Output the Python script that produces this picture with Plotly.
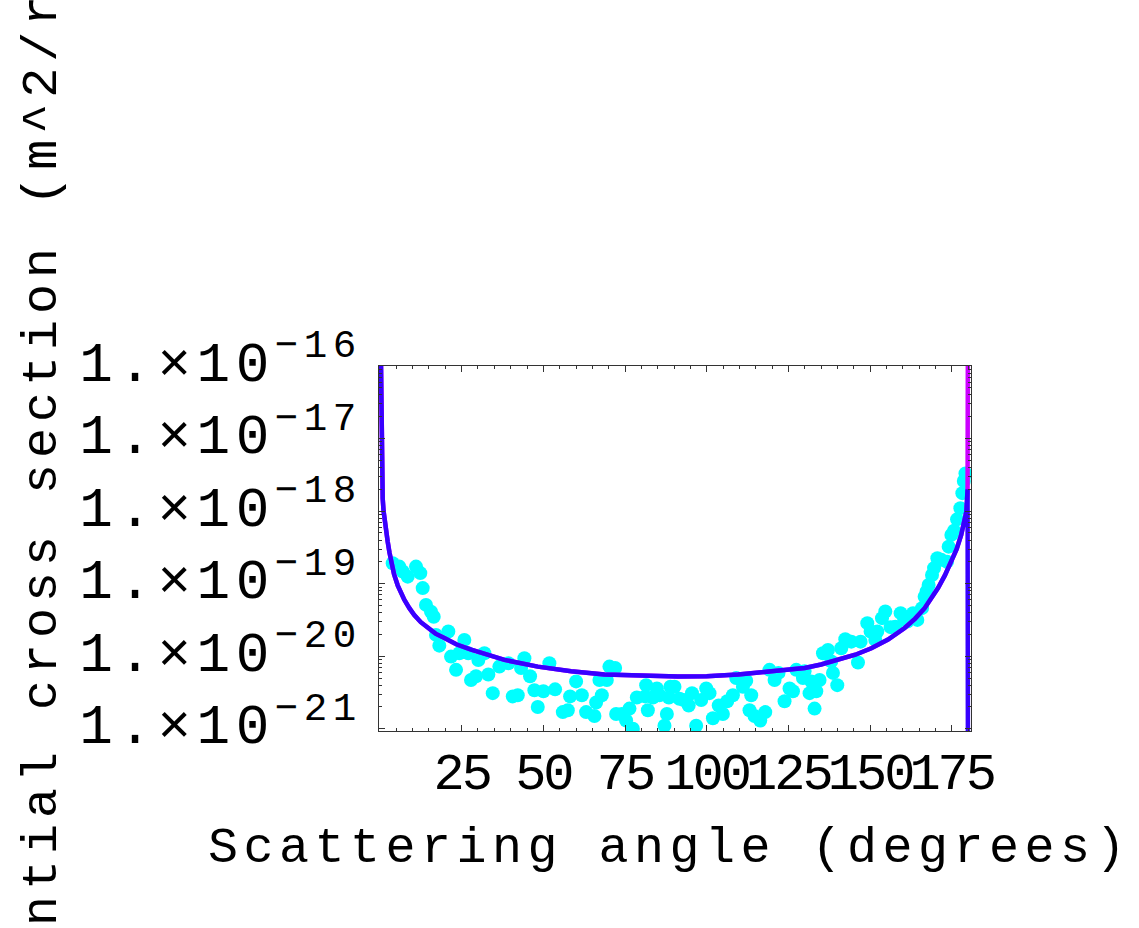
import plotly.graph_objects as go

# Measured differential cross section vs scattering angle (cyan points)
angle_deg = [
    3.89, 5.91, 6.95, 8.48, 11.03, 12.34, 13.08, 14.09, 15.62, 16.45,
    17.15, 18.16, 20.92, 21.75, 23.28, 24.29, 25.82, 27.04, 27.87, 29.40,
    30.11, 31.95, 33.17, 34.52, 36.54, 39.30, 40.64, 42.17, 43.19, 44.20,
    45.94, 47.26, 48.30, 50.02, 51.85, 53.60, 55.96, 57.49, 58.19, 60.03,
    61.78, 63.09, 65.64, 66.16, 67.17, 67.90, 69.43, 70.23, 71.98, 72.28,
    74.03, 75.34, 76.36, 77.40, 78.62, 81.16, 81.47, 81.99, 83.52, 84.75,
    85.54, 87.08, 87.81, 88.42, 88.91, 90.14, 91.67, 92.96, 94.49, 95.50,
    96.78, 98.32, 99.85, 100.86, 101.90, 103.68, 104.96, 106.28, 108.02, 109.04,
    111.09, 112.10, 113.11, 113.63, 114.64, 116.39, 117.92, 119.23, 120.77, 121.99,
    123.83, 125.36, 126.40, 127.41, 129.46, 129.96, 131.49, 132.01, 133.02, 133.54,
    134.55, 135.59, 137.12, 138.13, 138.65, 139.97, 141.19, 142.42, 144.26, 146.31,
    147.11, 149.16, 150.17, 151.61, 152.22, 153.66, 154.67, 156.29, 157.73, 159.36,
    160.40, 161.41, 163.15, 164.47, 165.91, 166.71, 167.32, 167.93, 168.97, 169.59,
    170.60, 171.82, 173.57, 174.06, 174.89, 175.71, 176.63, 177.64, 178.25, 178.70,
    179.20,
]
sigma_measured = [
    1.91e-19, 1.72e-19, 1.47e-19, 1.25e-19, 1.72e-19, 1.40e-19, 8.7e-20, 5.1e-20, 4.1e-20, 3.5e-20,
    1.97e-20, 1.40e-20, 2.19e-20, 9.9e-21, 6.5e-21, 1.10e-20, 1.68e-20, 1.10e-20, 4.7e-21, 5.3e-21,
    8.9e-21, 1.10e-20, 5.6e-21, 3.1e-21, 7.2e-21, 8.0e-21, 2.8e-21, 2.9e-21, 6.9e-21, 9.4e-21,
    5.3e-21, 3.4e-21, 2.0e-21, 3.3e-21, 8.0e-21, 3.5e-21, 1.7e-21, 1.8e-21, 2.8e-21, 4.5e-21,
    2.9e-21, 1.7e-21, 1.5e-21, 2.3e-21, 4.7e-21, 2.9e-21, 4.7e-21, 7.2e-21, 6.9e-21, 1.6e-21,
    1.6e-21, 1.3e-21, 1.9e-21, 1.0e-21, 2.7e-21, 2.8e-21, 4.0e-21, 1.8e-21, 2.7e-21, 3.6e-21,
    2.9e-21, 1.1e-21, 1.6e-21, 2.7e-21, 3.8e-21, 3.8e-21, 2.6e-21, 2.5e-21, 2.1e-21, 3.1e-21,
    1.1e-21, 2.5e-21, 3.6e-21, 3.1e-21, 1.4e-21, 2.1e-21, 1.6e-21, 2.4e-21, 2.9e-21, 5.0e-21,
    3.8e-21, 4.6e-21, 1.8e-21, 2.9e-21, 1.5e-21, 1.3e-21, 1.7e-21, 6.5e-21, 4.7e-21, 5.9e-21,
    2.4e-21, 3.6e-21, 3.3e-21, 6.5e-21, 5.0e-21, 6.2e-21, 3.1e-21, 4.5e-21, 1.9e-21, 3.3e-21,
    4.7e-21, 1.10e-20, 1.22e-20, 8.5e-21, 5.9e-21, 4.0e-21, 1.29e-20, 1.72e-20, 1.59e-20, 8.2e-21,
    1.59e-20, 2.86e-20, 2.19e-20, 1.68e-20, 2.19e-20, 3.35e-20, 4.13e-20, 2.52e-20, 2.56e-20, 3.93e-20,
    3.35e-20, 3.01e-20, 3.93e-20, 3.17e-20, 4.60e-20, 6.6e-20, 7.8e-20, 9.6e-20, 1.32e-19, 1.64e-19,
    2.24e-19, 2.13e-19, 2.01e-19, 3.24e-19, 4.70e-19, 5.38e-19, 7.7e-19, 1.10e-18, 1.77e-18, 2.6e-18,
    3.3e-18,
]

# Theoretical curves (blue drops to zero exactly at 180 deg, magenta diverges there)
theory_angle = [
    0.30, 0.45, 0.60, 0.83, 1.10, 1.32, 1.80, 2.36, 2.90, 3.37,
    4.30, 5.42, 6.40, 7.44, 9.00, 10.5, 12.5, 14.6, 17.0, 19.7,
    23.5, 27.9, 33.0, 38.1, 48.3, 58.5, 68.7, 78.9, 91.2, 100.0,
    109.6, 119.8, 130.0, 135.0, 140.2, 145.5, 150.4, 155.5, 160.6, 163.8,
    166.7, 168.8, 170.8, 172.9, 174.9, 176.5, 177.9, 178.8, 179.5, 179.85,
]
theory_sigma = [
    1.2e-16, 3.0e-17, 4.0e-18, 1.5e-18, 1.0e-18, 8.0e-19, 5.3e-19, 3.8e-19, 2.7e-19, 2.0e-19,
    1.35e-19, 9.5e-20, 7.4e-20, 6.0e-20, 4.6e-20, 3.7e-20, 2.95e-20, 2.45e-20, 2.05e-20, 1.78e-20,
    1.45e-20, 1.23e-20, 1.03e-20, 8.9e-21, 7.2e-21, 6.2e-21, 5.6e-21, 5.4e-21, 5.25e-21, 5.3e-21,
    5.6e-21, 6.2e-21, 6.9e-21, 7.7e-21, 8.9e-21, 1.05e-20, 1.29e-20, 1.7e-20, 2.45e-20, 3.3e-20,
    4.6e-20, 6.2e-20, 8.7e-20, 1.3e-19, 2.0e-19, 3.0e-19, 4.7e-19, 6.8e-19, 1.0e-18, 2.0e-18,
]
blue_end_angle = [180.0]
blue_end_sigma = [1e-23]
magenta_end_angle = [179.97]
magenta_end_sigma = [1e-15]

x_ticks = [25, 50, 75, 100, 125, 150, 175]
y_ticks = [1e-21, 1e-20, 1e-19, 1e-18, 1e-17, 1e-16]
y_exponents = ["21", "20", "19", "18", "17", "16"]

FONT = "Liberation Mono"
BLUE = "#3700ff"
MAGENTA = "#cc00ff"
CYAN = "#00ffff"
FRAME = "#333333"

fig = go.Figure()
fig.add_trace(go.Scatter(
    x=angle_deg, y=sigma_measured, mode="markers",
    marker=dict(color=CYAN, size=14, line=dict(width=0)),
    showlegend=False,
))
fig.add_trace(go.Scatter(
    x=theory_angle + magenta_end_angle, y=theory_sigma + magenta_end_sigma,
    mode="lines", line=dict(color=MAGENTA, width=4.5), showlegend=False,
))
fig.add_trace(go.Scatter(
    x=theory_angle + blue_end_angle, y=theory_sigma + blue_end_sigma,
    mode="lines", line=dict(color=BLUE, width=4.5), showlegend=False,
))

x_text = ['<span style="letter-spacing:-3px">%d</span>' % v for v in x_ticks]
y_text = ['<span style="letter-spacing:5.5px">1.×10<sup>−%s</sup></span>' % e for e in y_exponents]

fig.update_xaxes(
    range=[-0.3, 180.9], showgrid=False, zeroline=False,
    showline=True, linecolor=FRAME, linewidth=1, mirror="allticks",
    tickmode="array", tickvals=x_ticks, ticktext=x_text, tickangle=0,
    ticks="inside", ticklen=6, tickcolor=FRAME, tickwidth=1,
    minor=dict(ticks="inside", ticklen=3, dtick=5, tick0=0, tickcolor=FRAME, showgrid=False),
    tickfont=dict(family=FONT, size=52, color="black"),
    ticklabelstandoff=-5,
)
fig.update_yaxes(
    type="log", range=[-21.03, -16], showgrid=False, zeroline=False,
    showline=True, linecolor=FRAME, linewidth=1, mirror="allticks",
    tickmode="array", tickvals=y_ticks, ticktext=y_text,
    ticks="inside", ticklen=6, tickcolor=FRAME, tickwidth=1,
    minor=dict(ticks="inside", ticklen=3, dtick="D1", tickcolor=FRAME, showgrid=False),
    tickfont=dict(family=FONT, size=56, color="black"),
    ticklabelstandoff=5, ticklabelshift=-5,
)

W, H = 1139, 928
L, R, T, B = 379, 168, 366, 197
pw, ph = W - L - R, H - T - B

fig.add_annotation(
    text='<span style="letter-spacing:5.5px">Scattering angle (degrees)</span>',
    xref="paper", yref="paper", x=(669 - L) / pw, y=(H - B - 848) / ph,
    xanchor="center", yanchor="middle", showarrow=False,
    font=dict(family=FONT, size=50, color="black"),
)
fig.add_annotation(
    text='<span style="letter-spacing:6px">Differential cross section (m^2/rad)</span>',
    xref="paper", yref="paper", x=(42 - L) / pw, y=(H - B - 530) / ph,
    xanchor="center", yanchor="middle", textangle=-90, showarrow=False,
    font=dict(family=FONT, size=50, color="black"),
)

fig.update_layout(
    width=W, height=H, margin=dict(l=L, r=R, t=T, b=B, autoexpand=False),
    paper_bgcolor="white", plot_bgcolor="white",
)
fig.write_html("out.html")
